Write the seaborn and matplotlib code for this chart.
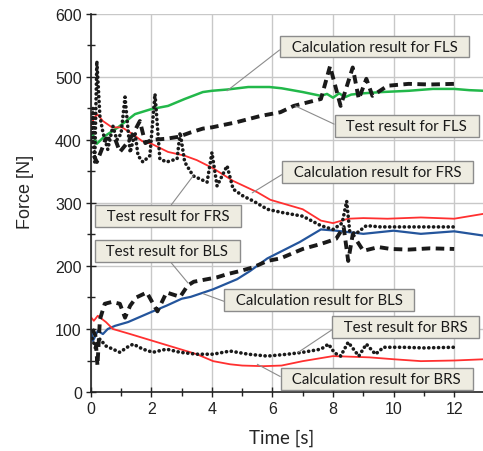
import numpy as np
import pandas as pd
import matplotlib
matplotlib.use("Agg")
import matplotlib.pyplot as plt
from matplotlib.ticker import MultipleLocator
import seaborn as sns

# calculation results
calc_fls_t = [0, 0.05, 0.2, 0.46, 0.9, 1.46, 2.0, 2.55, 3.1, 3.7, 4.0, 4.5, 5.2, 5.9, 6.3, 7.0, 7.6,
              7.8, 8.0, 8.2, 8.4, 8.6, 9.0, 9.6, 10.5, 11.3, 12.0, 12.5, 13.0]
calc_fls_y = [401, 410, 394, 406, 420, 441, 449, 454, 465, 476, 478, 480, 484, 484, 482, 476, 470,
              473, 467, 474, 468, 472, 474, 476, 478, 481, 481, 479, 478]

calc_frs_t = [0, 0.13, 0.23, 0.4, 0.7, 1.03, 1.36, 1.7, 2.0, 2.55, 3.1, 3.5, 4.04, 4.7, 5.5, 5.93,
              6.5, 7.0, 7.6, 8.0, 8.5, 9.0, 9.8, 10.9, 12.0, 12.5, 13.0]
calc_frs_y = [422, 437, 440, 430, 420, 420, 410, 398, 394, 381, 375, 368, 355, 335, 317, 305,
              297, 290, 272, 268, 275, 276, 275, 277, 275, 279, 283]

calc_bls_t = [0, 0.07, 0.23, 0.4, 0.56, 0.8, 1.23, 2.0, 2.5, 3.0, 3.3, 4.04, 4.83, 5.26, 5.83,
              6.9, 7.6, 8.1, 9.0, 10.0, 10.9, 12.0, 13.0]
calc_bls_y = [100, 81, 97, 92, 100, 105, 111, 127, 137, 148, 151, 163, 179, 192, 212,
              238, 258, 256, 251, 256, 251, 255, 248]

calc_brs_t = [0, 0.1, 0.23, 0.5, 0.73, 1.3, 1.85, 2.4, 2.95, 3.5, 4.04, 4.6, 5.0, 5.7, 6.3, 7.0,
              8.0, 9.2, 10.0, 10.9, 12.0, 13.0]
calc_brs_y = [119, 113, 121, 111, 100, 92, 84, 76, 68, 60, 49, 44, 42, 41, 42, 49,
              57, 55, 52, 49, 50, 52]

# test results
test_fls_t = [0.1, 0.2, 0.5, 0.8, 0.96, 1.23, 1.4, 1.62, 1.8, 2.0, 2.5, 2.9, 3.3, 3.7, 4.0, 4.8,
              5.6, 6.26, 6.7, 7.6, 7.9, 8.25, 8.65, 8.85, 9.1, 9.3, 9.8, 10.5, 11.2, 12.0]
test_fls_y = [375, 365, 402, 402, 381, 397, 410, 430, 395, 400, 402, 405, 412, 418, 420, 428,
              438, 444, 454, 465, 517, 454, 515, 465, 497, 470, 486, 489, 488, 489]

test_frs_t = [0, 0.07, 0.13, 0.2, 0.3, 0.4, 0.56, 0.73, 0.86, 1.0, 1.13, 1.3, 1.46, 1.56, 1.72,
              1.95, 2.12, 2.28, 2.5, 2.85, 2.95, 3.1, 3.38, 3.84, 4.0, 4.17, 4.5, 4.7, 5.03,
              5.37, 5.83, 6.3, 7.0, 7.6, 8.0, 8.3, 8.45, 8.55, 8.75, 9.1, 9.57, 10.5, 11.3, 12.0]
test_frs_y = [380, 450, 365, 525, 438, 412, 385, 422, 400, 410, 468, 380, 412, 375, 365,
              375, 473, 370, 365, 370, 412, 365, 343, 333, 380, 327, 359, 322, 311,
              303, 290, 285, 279, 264, 258, 268, 303, 255, 251, 264, 262, 262, 262, 262]

test_bls_t = [0.05, 0.15, 0.22, 0.3, 0.46, 0.7, 0.96, 1.13, 1.3, 1.5, 1.85, 2.0, 2.2, 2.5, 2.95,
              3.2, 3.4, 3.84, 4.17, 4.5, 4.93, 5.37, 5.83, 6.26, 7.0, 7.6, 8.1, 8.35, 8.5,
              8.65, 9.0, 9.5, 9.9, 10.5, 11.2, 12.0]
test_bls_y = [100, 90, 42, 115, 140, 143, 140, 118, 137, 150, 158, 145, 128, 158, 151,
              169, 175, 179, 182, 187, 192, 198, 208, 212, 227, 235, 243, 262, 208,
              250, 224, 230, 227, 226, 228, 227]

test_brs_t = [0.05, 0.15, 0.3, 0.5, 0.73, 0.96, 1.2, 1.4, 1.72, 2.05, 2.5, 2.95, 3.5, 4.04, 4.6,
              5.2, 5.83, 6.5, 7.0, 7.6, 7.85, 8.05, 8.25, 8.5, 8.85, 9.1, 9.4, 9.67, 10.3,
              11.0, 12.0]
test_brs_y = [85, 70, 84, 73, 68, 63, 71, 76, 68, 63, 68, 63, 60, 60, 65,
              60, 57, 60, 63, 68, 76, 62, 57, 79, 57, 76, 60, 71, 71,
              70, 71]

# label text, label centre, leader target
labels = ["Calculation result for FLS", "Test result for FLS", "Calculation result for FRS",
          "Test result for FRS", "Test result for BLS", "Calculation result for BLS",
          "Test result for BRS", "Calculation result for BRS"]
label_xy = [(9.37, 548), (10.43, 422), (9.47, 349), (2.55, 279), (2.52, 224), (7.55, 146),
            (10.4, 103), (9.44, 21)]
target_xy = [(4.5, 478), (6.75, 454), (5.33, 316), (3.38, 343), (3.21, 173), (3.71, 156),
             (6.85, 63), (5.5, 44)]
rel_pos = [(0, 0.5), (0, 0.5), (0, 0.5), (0.5, 1), (0.5, 0), (0, 0.3), (0, 0.5), (0, 0.5)]


def main() -> None:
    sns.set_style("ticks")
    plt.rcParams["font.family"] = ["Liberation Sans", "DejaVu Sans"]

    fig = plt.figure(figsize=(4.83, 4.52), dpi=100)
    ax = fig.add_axes([0.188, 0.1305, 0.815, 0.8365])

    dot = dict(linestyle=(0, (0.05, 1.3)), dash_capstyle="round", linewidth=2.6, color="#1a1a1a")
    dash = dict(linestyle=(0, (2.2, 1.4)), dash_capstyle="butt", linewidth=2.8, color="#1a1a1a")

    sns.lineplot(x=calc_fls_t, y=calc_fls_y, ax=ax, color="#22b84a", linewidth=1.8)
    sns.lineplot(x=calc_frs_t, y=calc_frs_y, ax=ax, color="#ff3030", linewidth=1.3)
    sns.lineplot(x=calc_bls_t, y=calc_bls_y, ax=ax, color="#24559c", linewidth=1.6)
    sns.lineplot(x=calc_brs_t, y=calc_brs_y, ax=ax, color="#ff3030", linewidth=1.3)
    sns.lineplot(x=test_fls_t, y=test_fls_y, ax=ax, **dash)
    sns.lineplot(x=test_bls_t, y=test_bls_y, ax=ax, **dash)
    sns.lineplot(x=test_frs_t, y=test_frs_y, ax=ax, **dot)
    sns.lineplot(x=test_brs_t, y=test_brs_y, ax=ax, **dot)

    for txt, xy, tgt, rp in zip(labels, label_xy, target_xy, rel_pos):
        ax.annotate(f"  {txt}  ", xy=tgt, xytext=xy, ha="center", va="center",
                    fontsize=10.8, family=["Lato", "DejaVu Sans"], color="#1a1a1a",
                    bbox=dict(boxstyle="square,pad=0.25", fc="#eeece1", ec="#8c8c8c", lw=1.0),
                    arrowprops=dict(arrowstyle="-", color="#8c8c8c", lw=0.8,
                                    relpos=rp, shrinkA=0, shrinkB=0),
                    zorder=5)

    ax.set_xlim(0, 13)
    ax.set_ylim(0, 600)
    ax.xaxis.set_major_locator(MultipleLocator(2))
    ax.xaxis.set_minor_locator(MultipleLocator(1))
    ax.yaxis.set_major_locator(MultipleLocator(100))
    ax.yaxis.set_minor_locator(MultipleLocator(50))
    ax.grid(True, which="major", color="#c8c8c8", linewidth=1.0)
    ax.set_axisbelow(True)
    ax.tick_params(which="both", direction="inout", length=7, width=1, colors="#222222",
                   labelsize=11.5, pad=3)
    ax.tick_params(which="minor", length=6)
    for s in ["top", "right"]:
        ax.spines[s].set_visible(False)
    for s in ["left", "bottom"]:
        ax.spines[s].set_color("#222222")
        ax.spines[s].set_linewidth(1.2)

    ax.set_ylabel("Force [N]", fontsize=13)
    ax.yaxis.set_label_coords(-0.145, 0.532)
    ax.set_xlabel("Time [s]", fontsize=13.5, family=["Lato", "DejaVu Sans"])
    ax.xaxis.set_label_coords(0.485, -0.096)

    fig.savefig("out.png", dpi=100)


if __name__ == "__main__":
    main()
